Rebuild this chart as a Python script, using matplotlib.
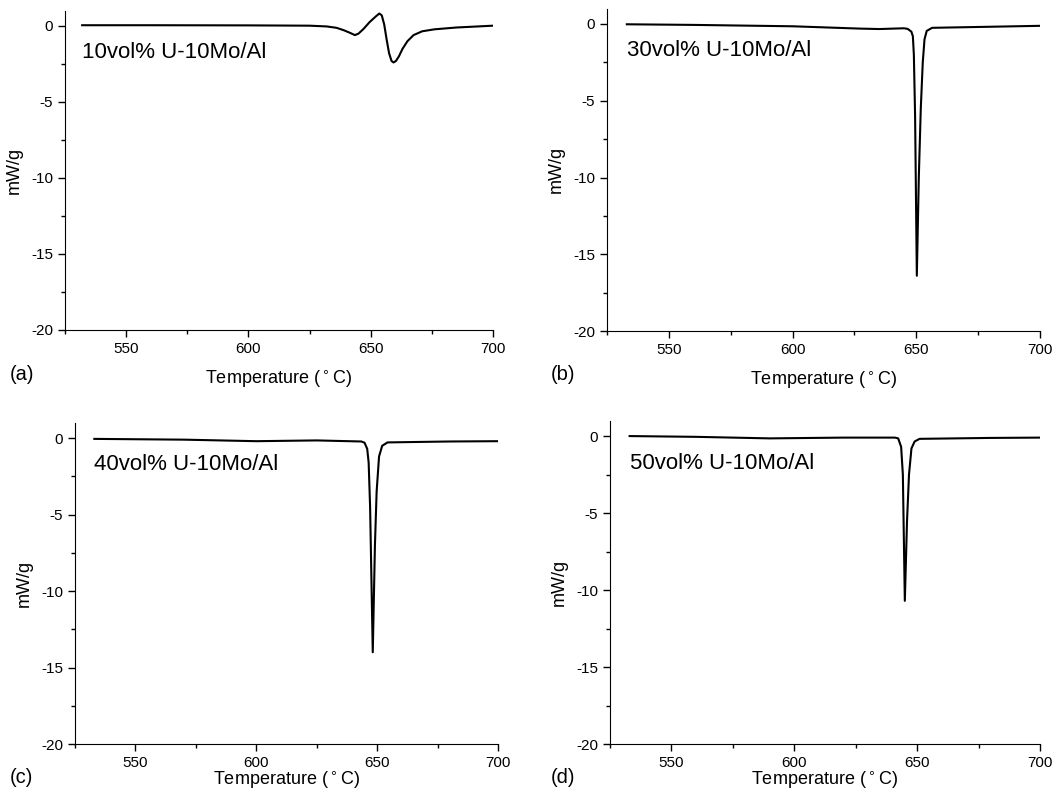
import numpy as np
import matplotlib
matplotlib.use('Agg')
from matplotlib import pyplot as plt
from matplotlib.ticker import MultipleLocator

plt.rcParams['font.family'] = ['Liberation Sans', 'DejaVu Sans']
plt.rcParams['axes.unicode_minus'] = False

# DSC traces (temperature in degC, heat flow in mW/g)
temp_a = [532, 560, 600, 625, 632, 636, 639, 641.5, 643.5, 645, 647, 649.5, 652, 653.5,
          654.5, 655.5, 656.5, 657.5, 658.5, 659.3, 660.3, 661.5, 663, 665, 667.5, 671,
          676, 685, 700]
flow_a = [0.05, 0.05, 0.04, 0.02, -0.03, -0.12, -0.28, -0.45, -0.6, -0.5, -0.2, 0.25, 0.62, 0.82,
          0.7, 0.1, -0.9, -1.8, -2.3, -2.4, -2.3, -2.0, -1.5, -1.0, -0.6, -0.35,
          -0.22, -0.1, 0.02]

temp_b = [533, 560, 600, 627, 635, 645, 646.5, 648, 648.6, 649.0, 649.5, 650.2,
          651.0, 651.8, 652.6, 653.3, 654.2, 656.4, 680, 700]
flow_b = [-0.02, -0.06, -0.15, -0.3, -0.33, -0.28, -0.32, -0.5, -0.8, -2.0, -6.0, -16.4,
          -10.0, -5.5, -2.5, -1.0, -0.45, -0.25, -0.18, -0.12]

temp_c = [533, 570, 600, 625, 643.5, 644.8, 645.9, 646.5, 647.1, 648.2, 649.1, 649.8,
          650.8, 652.1, 654.3, 680, 700]
flow_c = [-0.05, -0.1, -0.2, -0.15, -0.22, -0.3, -0.7, -1.6, -4.5, -14.0, -7.0, -3.5,
          -1.2, -0.5, -0.28, -0.22, -0.2]

temp_d = [533, 560, 590, 620, 641, 642.3, 643.5, 644.2, 645, 645.9, 646.7, 647.7,
          649, 651, 680, 700]
flow_d = [0.0, -0.05, -0.15, -0.1, -0.1, -0.15, -0.7, -2.5, -10.7, -5.5, -2.5, -0.8,
          -0.35, -0.18, -0.12, -0.1]

samples = ['10vol% U-10Mo/Al', '30vol% U-10Mo/Al', '40vol% U-10Mo/Al', '50vol% U-10Mo/Al']
letters = ['(a)', '(b)', '(c)', '(d)']
temps = [temp_a, temp_b, temp_c, temp_d]
flows = [flow_a, flow_b, flow_c, flow_d]

# axes boxes in figure fractions [left, bottom, width, height]
boxes = [[0.0611, 0.587, 0.4023, 0.3995],
         [0.5705, 0.5857, 0.407, 0.4035],
         [0.0705, 0.0688, 0.3975, 0.402],
         [0.5733, 0.0688, 0.4041, 0.4047]]
letter_pos = [(0.009, 0.531), (0.518, 0.531), (0.009, 0.027), (0.518, 0.027)]
xlabel_pads = [9, 9, 0, 0]

fig = plt.figure(figsize=(10.64, 7.99), dpi=100)

for i in range(4):
    ax = fig.add_axes(boxes[i])
    ax.plot(temps[i], flows[i], color='black', lw=1.5)
    ax.set_xlim(525, 700)
    ax.set_ylim(-20, 1)
    ax.xaxis.set_major_locator(MultipleLocator(50))
    ax.xaxis.set_minor_locator(MultipleLocator(25))
    ax.yaxis.set_major_locator(MultipleLocator(5))
    ax.yaxis.set_minor_locator(MultipleLocator(2.5))
    ax.spines['top'].set_visible(False)
    ax.spines['right'].set_visible(False)
    ax.tick_params(which='major', length=5, width=1, labelsize=11)
    ax.tick_params(which='minor', length=3, width=1)
    ax.set_xlabel('Temperature ($^\\circ$C)', fontsize=13, labelpad=xlabel_pads[i])
    ax.set_ylabel('mW/g', fontsize=13, labelpad=6)
    ax.text(temps[i][0], -1.75, samples[i], fontsize=16, va='center', ha='left')
    fig.text(letter_pos[i][0], letter_pos[i][1], letters[i], fontsize=14.5, va='center')

fig.savefig('out.png', dpi=100)
